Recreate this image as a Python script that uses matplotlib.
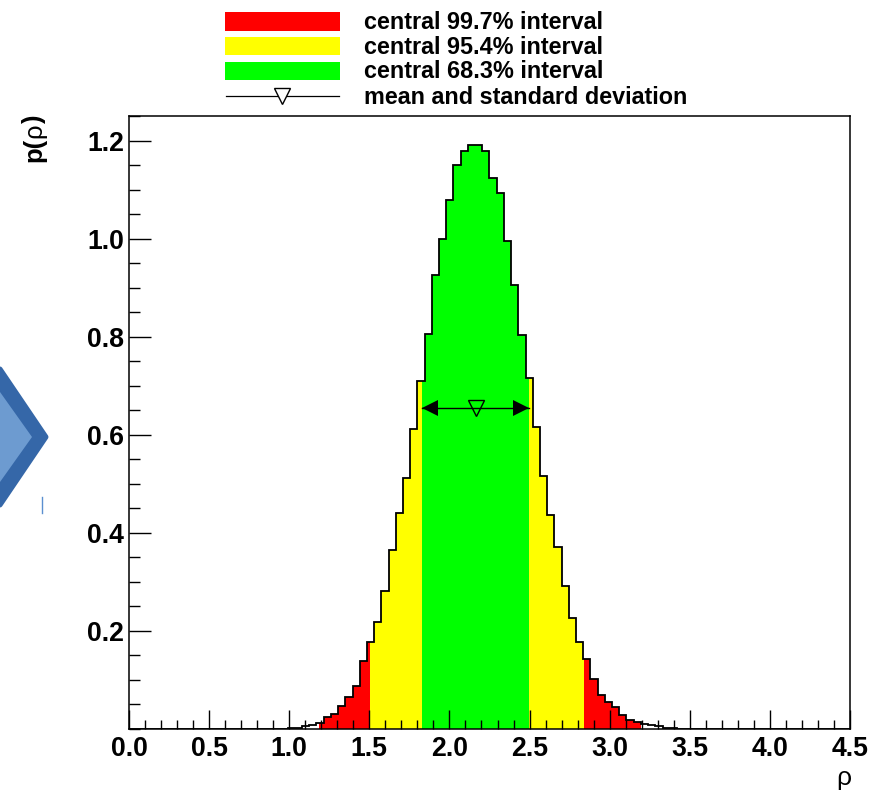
import numpy as np
import matplotlib
matplotlib.use('Agg')
import matplotlib.pyplot as plt
from matplotlib.patches import Polygon, Rectangle
from matplotlib.lines import Line2D
from matplotlib.ticker import MultipleLocator

plt.rcParams['font.family'] = ['Liberation Sans', 'DejaVu Sans']

# histogram, 100 bins between 0 and 4.5
binEdges = np.linspace(0, 4.5, 101)
binValues = [0]*22 + [0.002, 0.003, 0.007, 0.008, 0.013, 0.0245, 0.030, 0.046,
    0.065, 0.088, 0.138, 0.177, 0.219, 0.282, 0.365, 0.441, 0.513, 0.612,
    0.710, 0.807, 0.927, 0.999, 1.080, 1.152, 1.180, 1.191, 1.191, 1.179,
    1.125, 1.094, 0.995, 0.906, 0.805, 0.717, 0.617, 0.517, 0.437, 0.372,
    0.292, 0.227, 0.178, 0.143, 0.103, 0.069, 0.056, 0.045, 0.029, 0.018,
    0.015, 0.011, 0.008, 0.006, 0.003, 0.002, 0.001] + [0]*23
binValues = np.array(binValues)

intervalLabels = ['central 99.7% interval', 'central 95.4% interval', 'central 68.3% interval']
intervalLimits = [(1.188, 3.198), (1.502, 2.838), (1.829, 2.499)]
intervalColors = ['#ff0000', '#ffff00', '#00ff00']

meanValue = 2.164
meanLow = 1.829
meanHigh = 2.499
meanY = 0.655

W, H = 884, 791
fig = plt.figure(figsize=(W/100, H/100), dpi=100)
ax = fig.add_axes([129/W, 1-729/H, 721/W, 613/H])

for (lo, hi), col in zip(intervalLimits, intervalColors):
    ax.stairs(binValues, np.clip(binEdges, lo, hi), fill=True, color=col, lw=0)
ax.stairs(binValues, binEdges, color='black', lw=1.3, baseline=None)

ax.plot([meanLow, meanHigh], [meanY, meanY], color='black', lw=1)
ax.plot([meanLow+0.052], [meanY], marker='<', ms=12, color='black', mew=0)
ax.plot([meanHigh-0.052], [meanY], marker='>', ms=12, color='black', mew=0)
ax.plot([meanValue], [meanY], marker='v', ms=11.5, mfc='none', mec='black', mew=1)

ax.set_xlim(0, 4.5)
ax.set_ylim(0, 1.251)
ax.xaxis.set_major_locator(MultipleLocator(0.5))
ax.xaxis.set_minor_locator(MultipleLocator(0.1))
ax.yaxis.set_minor_locator(MultipleLocator(0.05))
ax.set_yticks([0.2, 0.4, 0.6, 0.8, 1.0, 1.2])
ax.tick_params(axis='x', which='major', direction='in', length=13.5, width=1, labelsize=19.2, pad=5)
ax.tick_params(axis='x', which='minor', direction='in', length=6.8, width=1)
ax.tick_params(axis='y', which='major', direction='in', length=15.5, width=1, labelsize=19.2, pad=3.5)
ax.tick_params(axis='y', which='minor', direction='in', length=7.8, width=1)
for lab in ax.get_xticklabels() + ax.get_yticklabels():
    lab.set_fontweight('bold')
for s in ax.spines.values():
    s.set_linewidth(1.1)

fig.text(844/W, 1-790/H, 'ρ', fontsize=19, ha='center', va='bottom')

# y title, the rho is not bold
for txt, py, wt in [('p(', 162, 'bold'), ('ρ', 138, 'normal'), (')', 124, 'bold')]:
    fig.text(41/W, 1-py/H, txt, fontsize=18.5, fontweight=wt, rotation=90,
             rotation_mode='anchor', ha='left', va='baseline')

# legend
for i, (lab, col) in enumerate(zip(intervalLabels, intervalColors)):
    y = 21.3 + 24.75*i
    fig.add_artist(Rectangle((225/W, 1-(y+9.2)/H), 115/W, 18.4/H, transform=fig.transFigure, color=col, lw=0))
    fig.text(364/W, 1-(y+1)/H, lab, fontsize=16.8, fontweight='bold', va='center')
fig.add_artist(Line2D([226/W, 339/W], [1-95.5/H, 1-95.5/H], color='black', lw=0.9))
fig.add_artist(Line2D([282/W], [1-95.5/H], marker='v', ms=11.5, mfc='white', mec='black', mew=1))
fig.text(364/W, 1-97/H, 'mean and standard deviation', fontsize=16.8, fontweight='bold', va='center')

# bit of a slide arrow left over at the left edge
outer = [(0, 369), (46, 437), (0, 505)]
inner = [(0, 392), (32, 437), (0, 482)]
fig.add_artist(Polygon([(x/W, 1-y/H) for x, y in outer], transform=fig.transFigure, fc='#3567a8', ec='#3567a8', lw=3.6, joinstyle='round'))
fig.add_artist(Polygon([(x/W, 1-y/H) for x, y in inner], transform=fig.transFigure, fc='#6d9bd0', ec='none'))
fig.add_artist(Line2D([42/W, 42/W], [1-497/H, 1-513/H], color='#5b8fd0', lw=1))

fig.savefig('out.png', dpi=100)
